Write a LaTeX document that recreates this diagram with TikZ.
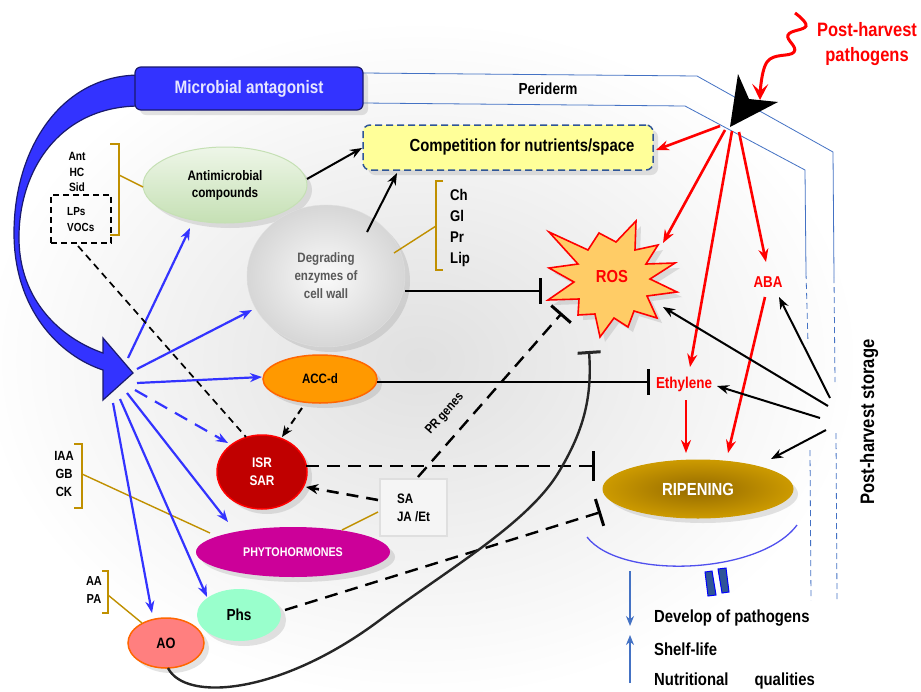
\documentclass[tikz,border=0pt]{standalone}
\usepackage{fontspec}
\setmainfont{Liberation Sans}[FakeStretch=0.85]
\usetikzlibrary{arrows.meta,shapes.geometric,shadows}
\definecolor{mablue}{HTML}{3333FF}
\definecolor{navy}{HTML}{1A1A6E}
\definecolor{malight}{HTML}{E6E6FF}
\definecolor{arblue}{HTML}{3333FF}
\definecolor{periblue}{HTML}{4472C4}
\definecolor{goldc}{HTML}{C09000}
\definecolor{compfill}{HTML}{FFFF99}
\definecolor{compdraw}{HTML}{2F5597}
\definecolor{grtop}{HTML}{EEF6E8}
\definecolor{grbot}{HTML}{C5E0B4}
\definecolor{accfill}{HTML}{FF9900}
\definecolor{accdraw}{HTML}{FF6600}
\definecolor{isrfill}{HTML}{C00000}
\definecolor{phyfill}{HTML}{CC0099}
\definecolor{phsfill}{HTML}{99FFCC}
\definecolor{aofill}{HTML}{FF7F7F}
\definecolor{rosfill}{HTML}{FFCC66}
\definecolor{ripin}{HTML}{946A00}
\definecolor{ripout}{HTML}{CC9A00}
\definecolor{eqfill}{HTML}{2F5597}
\definecolor{arcblue}{HTML}{5050EE}
\definecolor{txgray}{HTML}{595959}
\newcommand{\myfz}[2]{\fontsize{#1}{#2}\selectfont\bfseries}
\begin{document}
\begin{tikzpicture}[x=1pt,y=-1pt,
 shad/.style={drop shadow={shadow xshift=5pt,shadow yshift=-5pt,opacity=0.22}},
 ell/.style={ellipse,inner sep=0pt,shad},
 barr/.style={draw=arblue,line width=2.2pt,-{Stealth[length=12pt,width=9pt]}},
 karr/.style={draw=black,line width=2pt,-{Stealth[length=12pt,width=9pt]}},
 rarr/.style={draw=red,line width=2.6pt,-{Stealth[length=13pt,width=10pt]}},
 inh/.style={draw=black,line width=2.4pt,-{Bar[width=26pt,line width=3pt]}},
 lng/.style={dash pattern=on 13pt off 8pt},
 gline/.style={draw=goldc,line width=1.4pt},
 peri/.style={draw=periblue,line width=0.8pt},
 peridash/.style={draw=periblue,line width=0.8pt,dash pattern=on 6pt off 4pt},
]
\useasboundingbox (0,0) rectangle (921,691);
\fill[white] (0,0) rectangle (921,691);
\shade[inner color=gray!24,outer color=white] (420,360) ellipse (440pt and 340pt);

% periderm lines
\draw[peri] (363,73) -- (697,76) -- (833,152) -- (834,277);
\draw[peridash] (834,277) -- (835,382);
\draw[peridash] (836,433) -- (837,600);
\draw[peri] (363,103) -- (685,106) -- (805,170) -- (806,273);
\draw[peridash] (806,273) -- (808,343);
\draw[peridash] (810,450) -- (811,600);
\node[font=\myfz{16}{18}] (per) at (548,89) {Periderm};

% big curved arrow
\filldraw[fill=mablue,draw=navy,line width=1.2pt] (150,75) -- (140,75) .. controls (60,75) and (14,150) .. (14,233) .. controls (14,310) and (60,356) .. (103,370) -- (103,400) -- (133,373) -- (103,338) -- (103,353) .. controls (60,338) and (20,300) .. (19,240) .. controls (18,170) and (60,106) .. (140,106) -- (150,106) -- cycle;

\node[draw=navy,line width=1.2pt,fill=mablue,rounded corners=6pt,minimum width=228pt,minimum height=43pt,text=malight,font=\myfz{18}{20},shad] (ma) at (249,88.5) {Microbial antagonist};

% competition box
\node[draw=compdraw,dash pattern=on 7pt off 4pt,line width=1.5pt,rounded corners=7pt,fill=compfill,minimum width=290pt,minimum height=45pt,shad] (comp) at (508,147.5) {};
\node[font=\myfz{17.5}{20}] (compt) at (522,147) {Competition for nutrients/space};

% pathogen wedge and squiggle
\fill (738,74) -- (749,99) -- (778,102) -- (730,127) -- cycle;
\draw[red,line width=3pt,-{Stealth[length=16pt,width=16pt,inset=7pt]}] plot[smooth,tension=0.7] coordinates {(795,13) (806,26) (788,35) (794,52) (767,62) (760,100)};
\node[text=red,font=\myfz{19.4}{25},align=center] (pp) at (867,44) {Post-harvest\\pathogens};

% nodes
\node[ell,draw=grbot,line width=1pt,top color=grtop,bottom color=grbot,minimum width=164pt,minimum height=76pt,align=center,font=\myfz{13.8}{17}] (amc) at (225,185) {Antimicrobial\\compounds};
\node[ell,draw=gray!25,inner color=white!96!gray,outer color=gray!32,minimum width=158pt,minimum height=142pt,align=center,text=txgray,font=\myfz{13.6}{18}] (deg) at (326,276) {Degrading\\enzymes of\\cell wall};
\node[ell,draw=accdraw,line width=1.5pt,fill=accfill,minimum width=114pt,minimum height=48pt,font=\myfz{13.6}{16}] (acc) at (320,379) {ACC-d};
\node[ell,draw=red,line width=1.5pt,fill=isrfill,minimum width=90pt,minimum height=74pt,text=white,align=center,font=\myfz{13.9}{18}] (isr) at (262,472) {ISR\\SAR};
\node[ell,fill=phyfill,minimum width=194pt,minimum height=50pt,text=white,font=\myfz{12.6}{15}] (phy) at (293,552) {PHYTOHORMONES};
\node[ell,fill=phsfill,minimum width=84pt,minimum height=52pt,font=\myfz{16}{18}] (phs) at (239,615) {Phs};
\node[ell,draw=accdraw,line width=1.5pt,fill=aofill,minimum width=76pt,minimum height=50pt,font=\myfz{15}{18}] (ao) at (166,643) {AO};
\node[draw=gray!25,line width=1.2pt,fill=gray!8,minimum width=67pt,minimum height=57pt,align=left,font=\myfz{13.7}{18}] (sa) at (413.5,507.5) {SA\\JA /Et};

% ROS star
\draw[red,line width=1.6pt,fill=rosfill,shad,line join=miter] (549,232) -- (588,250) -- (599,233) -- (616,242) -- (636,221) -- (635,250) -- (658,245) -- (646,264) -- (675,263) -- (650,279) -- (677,292) -- (647,296) -- (657,318) -- (634,311) -- (628,327) -- (614,318) -- (600,337) -- (595,314) -- (578,315) -- (579,299) -- (548,300) -- (574,282) -- (549,268) -- (578,264) -- cycle;
\node[text=red,font=\myfz{17.4}{20}] (ros) at (612,277) {ROS};
\node[text=red,font=\myfz{15.7}{18}] (aba) at (768,282) {ABA};
\node[text=red,font=\myfz{15.8}{18}] (eth) at (684,384) {Ethylene};
\node[ell,draw=ripout,line width=1pt,inner color=ripin,outer color=ripout,minimum width=190pt,minimum height=58pt,text=white,font=\myfz{17.5}{20}] (rip) at (698,489) {RIPENING};
\node[rotate=90,font=\myfz{19.5}{22}] (stor) at (869,422) {Post-harvest storage};

% small labels and brackets
\node[font=\myfz{12}{15.5},align=center] (ant) at (77,172) {Ant\\HC\\Sid};
\node[draw,dash pattern=on 6pt off 4pt,line width=1.6pt,minimum width=60pt,minimum height=48pt] (lps) at (81,219) {};
\node[font=\myfz{11.7}{16},align=left,anchor=west,inner sep=0pt] (lpst) at (67,220) {LPs\\VOCs};
\draw[gline] (110,144) -- (119,144) -- (119,235) -- (110,235);
\draw[gline] (119,175) -- (143,187);
\node[font=\myfz{15.5}{20.7},align=left,anchor=west,inner sep=0pt] (chl) at (450,228) {Ch\\Gl\\Pr\\Lip};
\draw[gline] (443,181) -- (436,181) -- (436,270) -- (443,270);
\draw[gline] (436,226) -- (394,253);
\node[font=\myfz{13.3}{18},align=center] (iaa) at (64,474) {IAA\\GB\\CK};
\draw[gline] (74,444) -- (82,444) -- (82,508) -- (74,508);
\draw[gline] (82,474) -- (210,533);
\node[font=\myfz{13}{18},align=center] (aa) at (94,590) {AA\\PA};
\draw[gline] (102,571) -- (108,571) -- (108,613) -- (102,613);
\draw[gline] (108,595) -- (142,623);
\draw[gline] (378,512) -- (342,530);

% coordinates
\coordinate (s1) at (128,358); \coordinate (t1) at (190,228);
\coordinate (s2) at (137,369); \coordinate (t2) at (252,310);
\coordinate (s3) at (137,383); \coordinate (t3) at (262,377);
\coordinate (s4) at (135,390); \coordinate (t4) at (228,443);
\coordinate (s5) at (127,393); \coordinate (t5) at (228,522);
\coordinate (s6) at (120,399); \coordinate (t6) at (207,597);
\coordinate (s7) at (113,403); \coordinate (t7) at (152,613);

% blue arrows
\draw[barr] (s1) -- (t1);
\draw[barr] (s2) -- (t2);
\draw[barr] (s3) -- (t3);
\draw[barr,dash pattern=on 14pt off 9pt] (s4) -- (t4);
\draw[barr] (s5) -- (t5);
\draw[barr] (s6) -- (t6);
\draw[barr] (s7) -- (t7);

% black arrows to competition
\coordinate (a1) at (307,179); \coordinate (c1) at (362,148);
\coordinate (a2) at (367,232); \coordinate (c2) at (397,173);
\draw[karr] (a1) -- (c1);
\draw[karr] (a2) -- (c2);

% dashed LPs to ISR
\coordinate (l1) at (78,246); \coordinate (l2) at (246,437);
\draw[black,line width=1.7pt,dash pattern=on 7pt off 5pt] (l1) -- (l2);
% ACC to ISR
\coordinate (ac1) at (302,408); \coordinate (ac2) at (282,437);
\draw[black,line width=2pt,dash pattern=on 7pt off 5pt,-{Stealth[length=11pt,width=9pt]}] (ac1) -- (ac2);
% SA to ISR
\coordinate (sa1) at (378,500); \coordinate (sa2) at (306,487);
\draw[black,line width=2.6pt,dash pattern=on 12pt off 8pt,-{Stealth[length=12pt,width=10pt]}] (sa1) -- (sa2);

% inhibitions
\coordinate (i1) at (405,291); \coordinate (i2) at (542,291);
\draw[inh] (i1) -- (i2);
\coordinate (p1) at (418,477); \coordinate (p2) at (562,313);
\draw[inh,lng] (p1) -- (p2);
\node[rotate=48.7,font=\myfz{13}{15},inner sep=0pt] (prg) at (445,414) {PR genes};
\coordinate (e1) at (377,382); \coordinate (e2) at (650,382);
\draw[inh] (e1) -- (e2);
\coordinate (r1) at (306,466); \coordinate (r2) at (595,466);
\draw[inh,lng,-{Bar[width=30pt,line width=3pt]}] (r1) -- (r2);
\coordinate (h1) at (285,610); \coordinate (h2) at (601,512);
\draw[inh,lng,-{Bar[width=28pt,line width=3pt]}] (h1) -- (h2);
\coordinate (o1) at (168,668); \coordinate (o2) at (589,351);
\draw[draw=black!85,line width=2.4pt,-{Bar[width=23pt,line width=3pt]}] (o1) .. controls (185,702) and (280,695) .. (380,620) .. controls (450,568) and (530,522) .. (560,470) .. controls (585,428) and (592,395) .. (o2);

% red arrows
\coordinate (w1) at (720,126); \coordinate (wc) at (656,150);
\coordinate (w2) at (725,130); \coordinate (wr) at (663,243);
\coordinate (w3) at (732,131); \coordinate (we) at (690,367);
\coordinate (w4) at (739,132); \coordinate (wa) at (766,262);
\draw[rarr] (w1) -- (wc);
\draw[rarr] (w2) -- (wr);
\draw[rarr] (w3) -- (we);
\draw[rarr] (w4) -- (wa);
\coordinate (et1) at (686,400); \coordinate (et2) at (686,453);
\draw[rarr] (et1) -- (et2);
\coordinate (ab1) at (765,297); \coordinate (ab2) at (728,453);
\draw[rarr] (ab1) -- (ab2);

% storage arrows
\coordinate (g1) at (830,398); \coordinate (ga) at (779,297);
\coordinate (g2) at (828,406); \coordinate (gr) at (663,307);
\coordinate (g3) at (820,418); \coordinate (ge) at (717,386);
\coordinate (g4) at (826,430); \coordinate (gp) at (771,459);
\draw[karr] (g1) -- (ga);
\draw[karr] (g2) -- (gr);
\draw[karr] (g3) -- (ge);
\draw[karr] (g4) -- (gp);

% below ripening
\coordinate (b1) at (587,537); \coordinate (b2) at (797,525);
\draw[arcblue,line width=1.3pt] (b1) .. controls (620,580) and (760,575) .. (b2);
\filldraw[fill=eqfill,draw=blue,line width=1pt] (705,572) -- (712,571) -- (716,595) -- (708,596) -- cycle;
\filldraw[fill=eqfill,draw=blue,line width=1pt] (718,569) -- (726,568) -- (729,592) -- (722,593) -- cycle;
\coordinate (d1) at (630,571); \coordinate (d2) at (630,626);
\coordinate (u1) at (630,683); \coordinate (u2) at (630,635);
\draw[periblue,line width=1.5pt,-{Stealth[length=10pt,width=8pt]}] (d1) -- (d2);
\draw[periblue,line width=1.5pt,-{Stealth[length=10pt,width=8pt]}] (u1) -- (u2);
\node[anchor=west,inner sep=0pt,font=\myfz{17.5}{20}] (dev) at (654,618) {Develop of pathogens};
\node[anchor=west,inner sep=0pt,font=\myfz{17.5}{20}] (shl) at (654,649) {Shelf-life};
\node[anchor=west,inner sep=0pt,font=\myfz{17.5}{20}] (nut) at (654,681) {Nutritional\hspace{26pt}qualities};
\end{tikzpicture}
\end{document}
